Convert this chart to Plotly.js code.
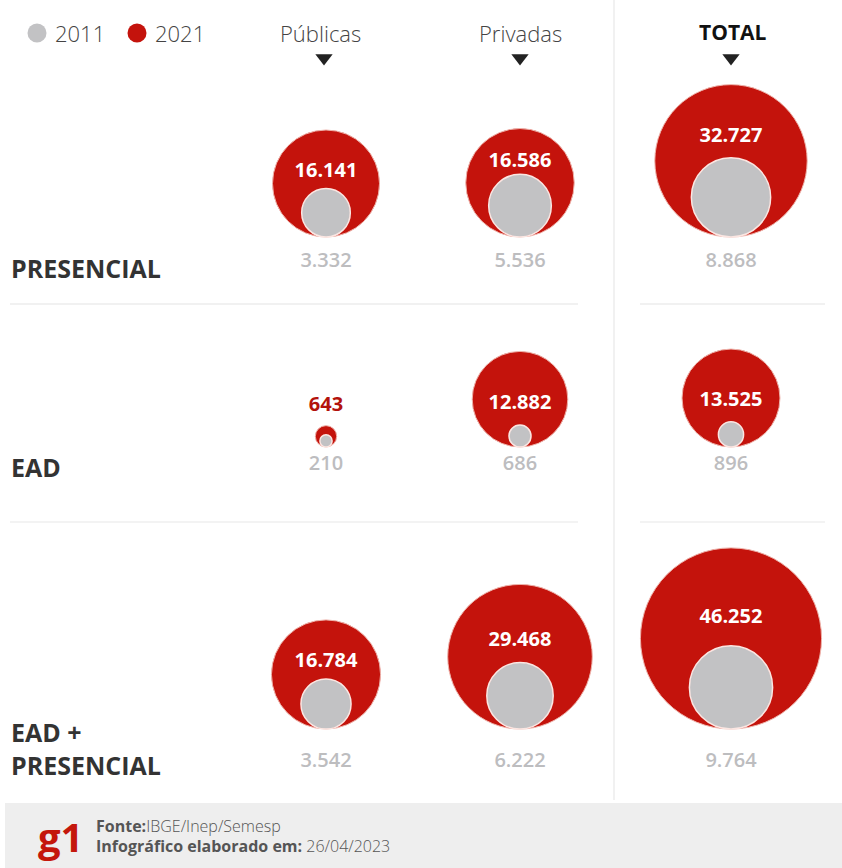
<!DOCTYPE html>
<html><head><meta charset="utf-8">
<script src="https://cdn.plot.ly/plotly-3.0.1.min.js"></script>
<style>html,body{margin:0;padding:0;background:#fff;overflow:hidden}</style>
</head><body><div id="chart" style="width:842px;height:868px"></div>
<script>
// ---- data ----
const rows = ['PRESENCIAL', 'EAD', 'EAD +<br>PRESENCIAL'];
const groups = ['Públicas', 'Privadas', 'TOTAL'];
const publicas2011 = [3332, 210, 3542];
const publicas2021 = [16141, 643, 16784];
const privadas2011 = [5536, 686, 6222];
const privadas2021 = [16586, 12882, 29468];
const total2011 = [8868, 896, 9764];
const total2021 = [32727, 13525, 46252];
const legendYears = ['2011', '2021'];

// ---- layout (positions / styles) ----
const series2011 = [publicas2011, privadas2011, total2011];
const series2021 = [publicas2021, privadas2021, total2021];
const colX = [326, 520, 731];
const rowBase = [237, 447, 729];
const rowLabelY = [262, 465, 762];
const rowTitleY = [268, 467, 748];
const SIZEREF = 2.82;
const RED = '#c4130c', GREY = '#c2c2c4';
const FONT = 'Open Sans, Noto Sans, sans-serif';
const diam = v => Math.sqrt(2 * v / SIZEREF);
const fmt = v => String(v).replace(/\B(?=(\d{3})+(?!\d))/g, '.');

const red = {x: [], y: [], s: []}, grey = {x: [], y: [], s: []};
const inLab = {x: [], y: [], t: []}, outLab = {x: [], y: [], t: []};
const gLab = {x: [], y: [], t: []};
for (let c = 0; c < groups.length; c++) {
  for (let r = 0; r < rows.length; r++) {
    const v21 = series2021[c][r], v11 = series2011[c][r];
    const base = rowBase[r];
    const dR = diam(v21), dG = diam(v11);
    red.x.push(colX[c]); red.y.push(base - dR / 2); red.s.push(v21);
    grey.x.push(colX[c]); grey.y.push(base - dG / 2); grey.s.push(v11);
    const topR = base - dR, topG = base - dG;
    if (dR > 40) {
      inLab.x.push(colX[c]); inLab.y.push(topR + 0.72 * (topG - topR)); inLab.t.push(fmt(v21));
    } else {
      outLab.x.push(colX[c]); outLab.y.push(topR - 20); outLab.t.push(fmt(v21));
    }
    gLab.x.push(colX[c]); gLab.y.push(rowLabelY[r]); gLab.t.push(fmt(v11));
  }
}

const traces = [
  {type: 'scatter', mode: 'markers', x: red.x, y: red.y, hoverinfo: 'skip',
   marker: {size: red.s, sizemode: 'area', sizeref: SIZEREF, color: RED, opacity: 1,
            line: {color: '#eeb3ab', width: 1}}},
  {type: 'scatter', mode: 'markers', x: grey.x, y: grey.y, hoverinfo: 'skip',
   marker: {size: grey.s, sizemode: 'area', sizeref: SIZEREF, color: GREY, opacity: 1,
            line: {color: '#fbe6e2', width: 1.5}}},
  {type: 'scatter', mode: 'text', x: inLab.x, y: inLab.y, text: inLab.t, hoverinfo: 'skip',
   textposition: 'middle center', textfont: {family: FONT, size: 20, color: '#ffffff', weight: 700}},
  {type: 'scatter', mode: 'text', x: outLab.x, y: outLab.y, text: outLab.t, hoverinfo: 'skip',
   textposition: 'middle center', textfont: {family: FONT, size: 20, color: '#b3120c', weight: 700}},
  {type: 'scatter', mode: 'text', x: gLab.x, y: gLab.y, text: gLab.t, hoverinfo: 'skip',
   textposition: 'middle center', textfont: {family: FONT, size: 20, color: '#bdbdbf', weight: 600}},
  // legend dots
  {type: 'scatter', mode: 'markers', x: [37, 137], y: [33, 33], hoverinfo: 'skip',
   marker: {size: 19, color: [GREY, RED], line: {width: 0}}},
  // header arrows
  {type: 'scatter', mode: 'markers', x: colX.map((x, i) => i === 0 ? x - 2 : x), y: [58, 58, 58], hoverinfo: 'skip',
   marker: {symbol: 'triangle-down', size: 15, color: '#222222', line: {width: 0}}}
];

const annotations = [];
const ann = (x, y, text, opts) => annotations.push(Object.assign({
  xref: 'x', yref: 'y', x, y, text, showarrow: false, xanchor: 'left', yanchor: 'middle', align: 'left',
  font: {family: FONT, size: 20, color: '#444'}}, opts || {}));

// legend texts
ann(53, 33, legendYears[0], {font: {family: FONT, size: 22, color: '#444', weight: 300}});
ann(153, 33, legendYears[1], {font: {family: FONT, size: 22, color: '#444', weight: 300}});
// headers
ann(colX[0] - 6, 33, groups[0], {xanchor: 'center', font: {family: FONT, size: 22, color: '#444', weight: 300}});
ann(colX[1], 33, groups[1], {xanchor: 'center', font: {family: FONT, size: 22, color: '#444', weight: 300}});
ann(colX[2] + 2, 32, '<b>' + groups[2] + '</b>', {xanchor: 'center', font: {family: FONT, size: 21, color: '#111'}});
// row labels
rows.forEach((r, i) => ann(9, rowTitleY[i], '<b>' + r + '</b>', {font: {family: FONT, size: 25, color: '#333'}}));
// footer
ann(36, 836, '<b>g1</b>', {font: {family: FONT, size: 40, color: '#c4170c'}});
ann(94, 826, '<b>Fonte:</b><span style="font-weight:300">IBGE/Inep/Semesp</span>', {font: {family: FONT, size: 16, color: '#555'}});
ann(94, 846, '<b>Infográfico elaborado em:</b> <span style="font-weight:300">26/04/2023</span>', {font: {family: FONT, size: 16, color: '#555'}});

const shapes = [
  {type: 'line', xref: 'x', yref: 'y', x0: 614, x1: 614, y0: 0, y1: 800, line: {color: '#f1f1f1', width: 2}, layer: 'below'},
  {type: 'line', xref: 'x', yref: 'y', x0: 10, x1: 578, y0: 304, y1: 304, line: {color: '#f1f1f1', width: 2}, layer: 'below'},
  {type: 'line', xref: 'x', yref: 'y', x0: 640, x1: 825, y0: 304, y1: 304, line: {color: '#f1f1f1', width: 2}, layer: 'below'},
  {type: 'line', xref: 'x', yref: 'y', x0: 10, x1: 578, y0: 522, y1: 522, line: {color: '#f3f3f3', width: 2}, layer: 'below'},
  {type: 'line', xref: 'x', yref: 'y', x0: 640, x1: 825, y0: 522, y1: 522, line: {color: '#f3f3f3', width: 2}, layer: 'below'},
  {type: 'rect', xref: 'x', yref: 'y', x0: 5, x1: 842, y0: 803, y1: 868, fillcolor: '#eeeeee', line: {width: 0}, layer: 'below'}
];

const layout = {
  width: 842, height: 868, margin: {l: 0, r: 0, t: 0, b: 0},
  paper_bgcolor: '#ffffff', plot_bgcolor: '#ffffff', showlegend: false,
  xaxis: {range: [0, 842], visible: false, fixedrange: true},
  yaxis: {range: [868, 0], visible: false, fixedrange: true},
  annotations, shapes, hovermode: false
};
Plotly.newPlot('chart', traces, layout, {staticPlot: true, displayModeBar: false});
</script></body></html>
